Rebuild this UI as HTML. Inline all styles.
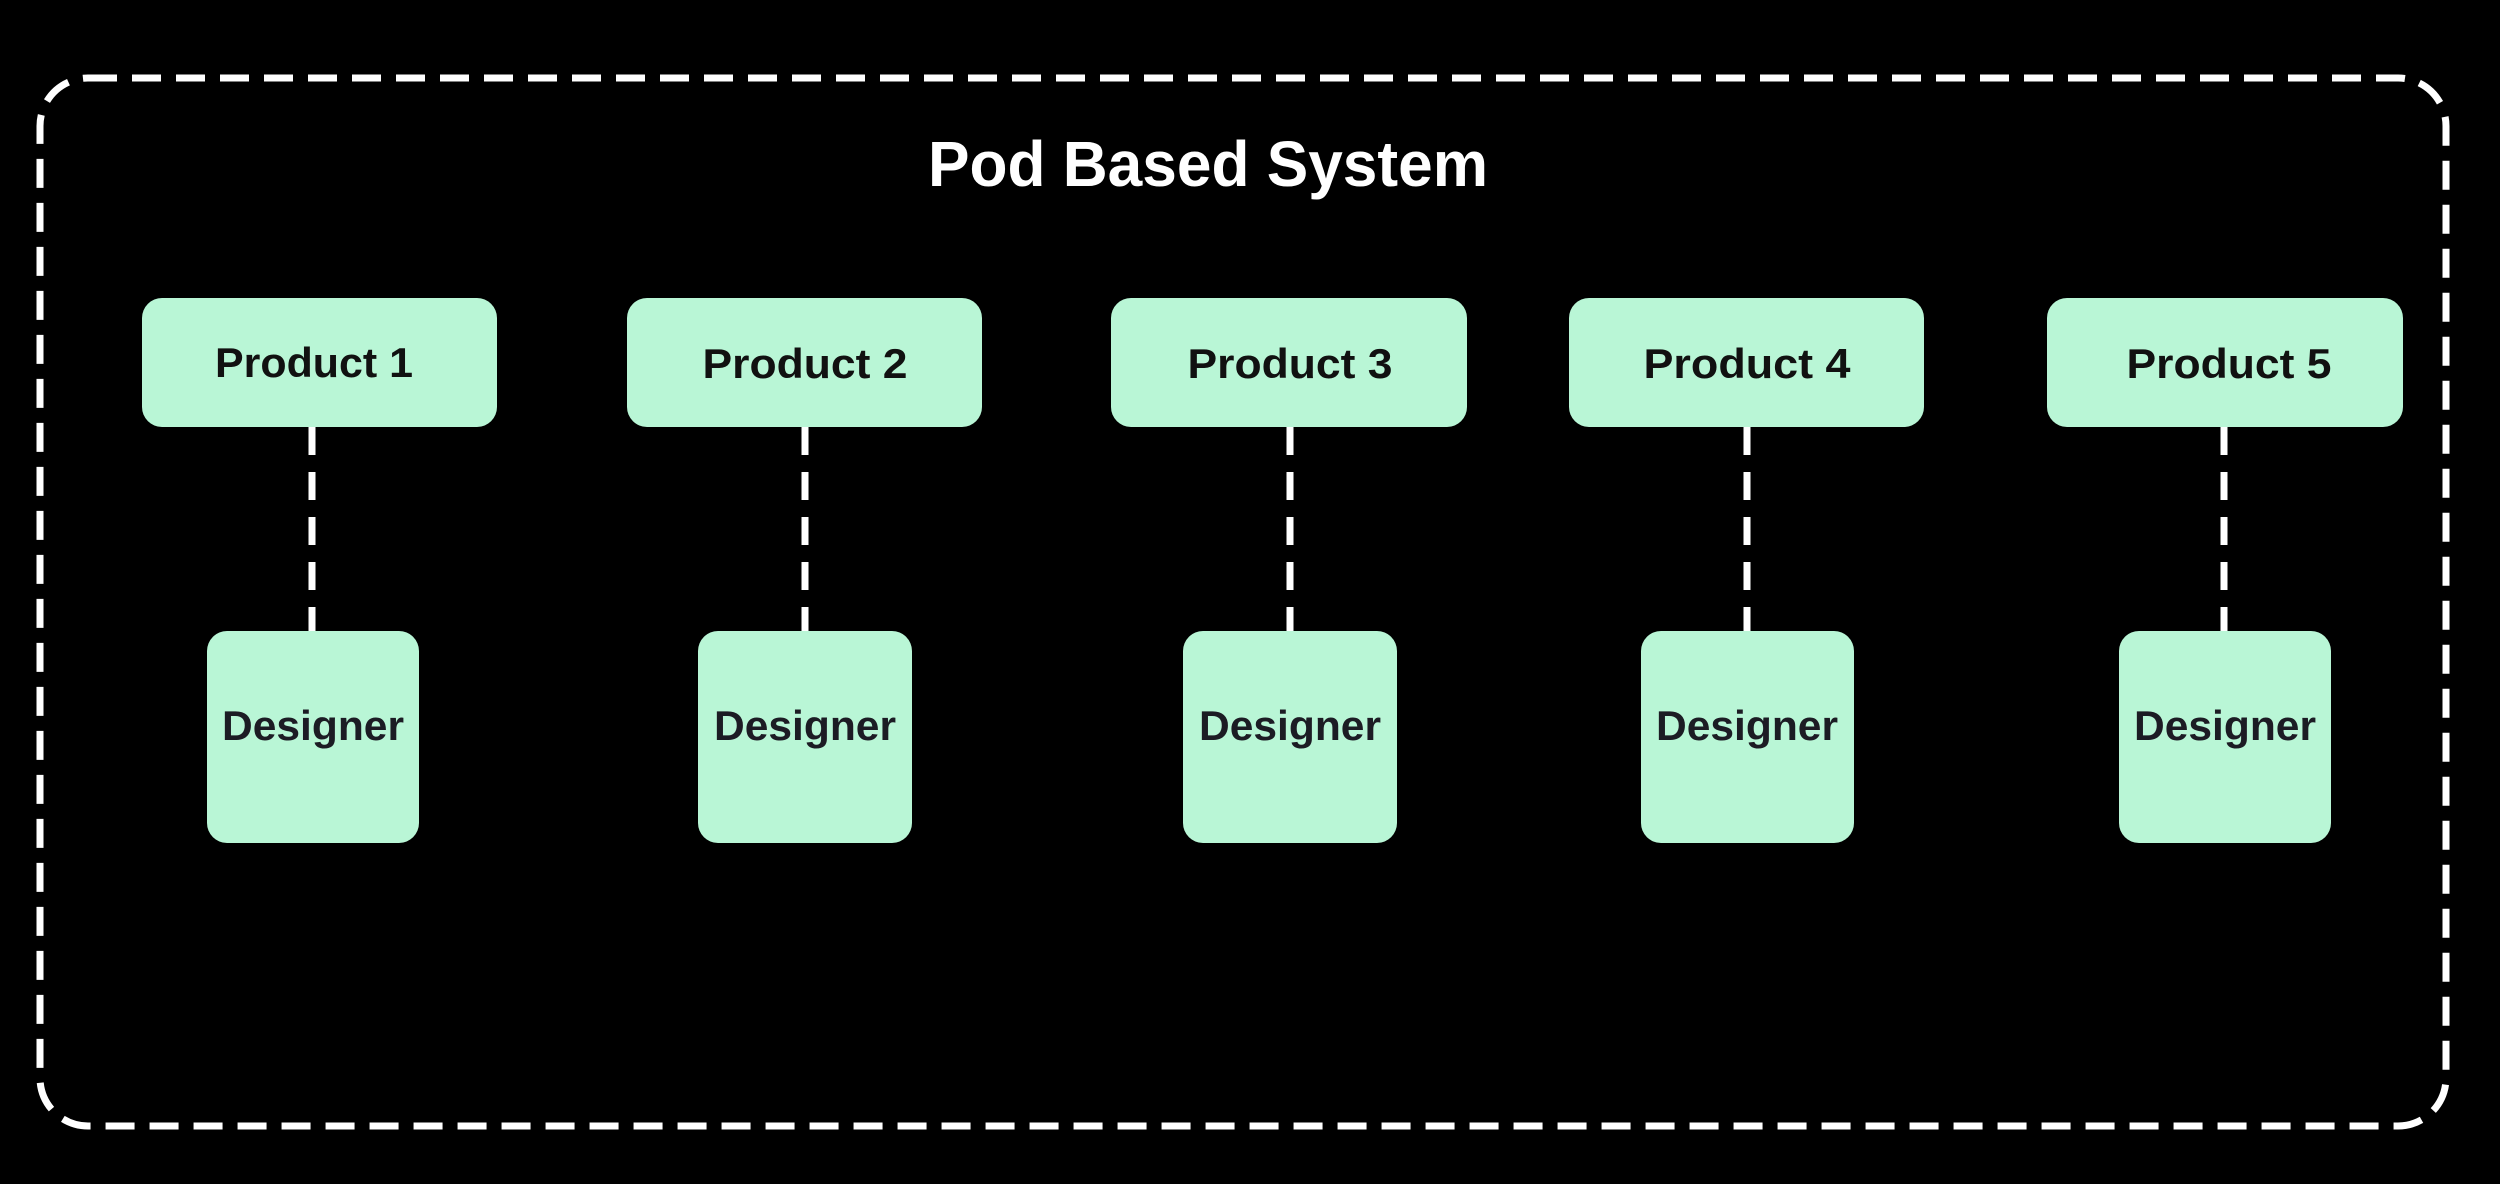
<!DOCTYPE html>
<html><head><meta charset="utf-8"><style>
html,body{margin:0;padding:0;background:#000;}
svg{display:block;}
text{font-family:"Liberation Sans",sans-serif;font-weight:bold;}
</style></head><body>
<svg width="2500" height="1184" viewBox="0 0 2500 1184" xmlns="http://www.w3.org/2000/svg">
<rect width="2500" height="1184" fill="#000"/>
<rect x="40" y="78" width="2406" height="1048" rx="48" ry="48" fill="none" stroke="#fff" stroke-width="7" stroke-dasharray="29 15"/>
<text x="1208" y="186" font-size="64" fill="#fff" text-anchor="middle" textLength="560" lengthAdjust="spacingAndGlyphs">Pod Based System</text>
<g stroke="#fff" stroke-width="7" stroke-dasharray="28 17">
<line x1="312" y1="427" x2="312" y2="631"/>
<line x1="805" y1="427" x2="805" y2="631"/>
<line x1="1290" y1="427" x2="1290" y2="631"/>
<line x1="1747" y1="427" x2="1747" y2="631"/>
<line x1="2224" y1="427" x2="2224" y2="631"/>
</g>
<g fill="#b9f6d6">
<rect x="142" y="298" width="355" height="129" rx="20"/>
<rect x="627" y="298" width="355" height="129" rx="20"/>
<rect x="1111" y="298" width="356" height="129" rx="20"/>
<rect x="1569" y="298" width="355" height="129" rx="20"/>
<rect x="2047" y="298" width="356" height="129" rx="20"/>
<rect x="207" y="631" width="212" height="212" rx="20"/>
<rect x="698" y="631" width="214" height="212" rx="20"/>
<rect x="1183" y="631" width="214" height="212" rx="20"/>
<rect x="1641" y="631" width="213" height="212" rx="20"/>
<rect x="2119" y="631" width="212" height="212" rx="20"/>
</g>
<g fill="#111" font-size="42" text-anchor="middle">
<text x="314" y="377" textLength="198" lengthAdjust="spacingAndGlyphs">Product 1</text>
<text x="805" y="378" textLength="205" lengthAdjust="spacingAndGlyphs">Product 2</text>
<text x="1290" y="378" textLength="205" lengthAdjust="spacingAndGlyphs">Product 3</text>
<text x="1747" y="378" textLength="207" lengthAdjust="spacingAndGlyphs">Product 4</text>
<text x="2229" y="378" textLength="205" lengthAdjust="spacingAndGlyphs">Product 5</text>
</g>
<g fill="#1c1c24" font-size="42" text-anchor="middle">
<text x="313" y="740" textLength="182" lengthAdjust="spacingAndGlyphs">Designer</text>
<text x="805" y="740" textLength="182" lengthAdjust="spacingAndGlyphs">Designer</text>
<text x="1290" y="740" textLength="182" lengthAdjust="spacingAndGlyphs">Designer</text>
<text x="1747" y="740" textLength="182" lengthAdjust="spacingAndGlyphs">Designer</text>
<text x="2225" y="740" textLength="182" lengthAdjust="spacingAndGlyphs">Designer</text>
</g>
</svg>
</body></html>
